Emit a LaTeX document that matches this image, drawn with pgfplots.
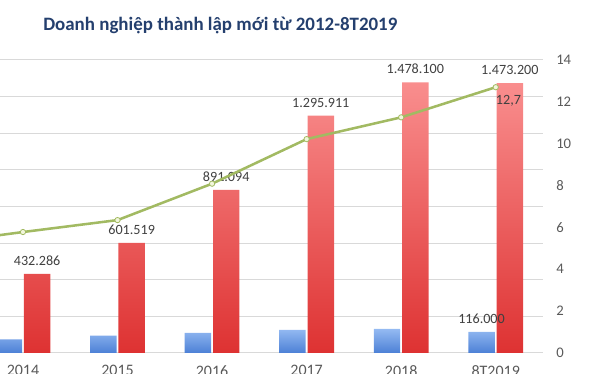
\documentclass[border=0pt]{standalone}
\usepackage{fontspec}
\setmainfont{Carlito}
\usepackage{pgfplots}
\usepackage{pgfplotstable}
\pgfplotsset{compat=1.18}
\pgfkeys{/pgf/number format/assume math mode=true}
\definecolor{gridgray}{HTML}{D9D9D9}
\definecolor{titleblue}{HTML}{243F6E}
\definecolor{lbl}{HTML}{404040}
\definecolor{ticklbl}{HTML}{595959}
\definecolor{redtop}{HTML}{F98E8E}
\definecolor{redbot}{HTML}{DE3232}
\definecolor{bluetop}{HTML}{94BAF2}
\definecolor{bluebot}{HTML}{4C80D6}
\definecolor{linegreen}{HTML}{A2BA62}
\definecolor{markfill}{HTML}{F2F6DC}

\pgfplotstableread{
idx red blue
0 432286 74842
1 601519 94754
2 891094 110100
3 1295911 126859
4 1478100 131275
5 1473200 116000
}\bars
\pgfplotstableread{
idx ratio
-1 5.18
0 5.78
1 6.35
2 8.09
3 10.22
4 11.26
5 12.70
}\ratio

\begin{document}
\begin{tikzpicture}
\begin{axis}[
  width=407.25pt, height=219.75pt, scale only axis,
  xmin=-0.243, xmax=5.5,
  ymin=0, ymax=1600000,
  scaled y ticks=false,
  axis line style={draw=none},
  tick style={draw=none},
  ytick={0,200000,...,1600000},
  yticklabels={},
  ymajorgrids,
  major grid style={gridgray, line width=0.75pt},
  xtick={0,...,5},
  xticklabels={2014,2015,2016,2017,2018,8T2019},
  xticklabel style={font=\fontsize{12}{14}\selectfont, color=ticklbl, anchor=north, inner sep=0pt, yshift=-9pt},
  every node near coord/.append style={font=\fontsize{10.6}{12}\selectfont, color=lbl, inner sep=0pt, anchor=south, yshift=6pt, xshift=10.6pt},
]
\coordinate (bl) at (rel axis cs:0,0);
\coordinate (tl) at (rel axis cs:0,1);
\addplot[ybar, bar width=0.28, bar shift=-0.15, draw=none, top color=bluetop, bottom color=bluebot] table[x=idx,y=blue]{\bars};
\addplot[ybar, bar width=0.28, bar shift=0.15, draw=none, top color=redtop, bottom color=redbot,
  nodes near coords={\pgfmathprintnumber[fixed,precision=0,1000 sep={.}]{\pgfplotspointmeta}}] table[x=idx,y=red]{\bars};
\node[font=\fontsize{10.6}{12}\selectfont, color=lbl, anchor=south, inner sep=0pt, yshift=6pt] at (axis cs:4.85,116000) {116.000};
\end{axis}
\begin{axis}[
  width=407.25pt, height=219.75pt, scale only axis,
  xmin=-0.243, xmax=5.5,
  ymin=0, ymax=14,
  axis x line=none,
  axis y line*=right,
  y axis line style={draw=none},
  tick style={draw=none},
  ytick={0,2,...,14},
  yticklabel style={font=\fontsize{11}{13}\selectfont, color=ticklbl, anchor=west, inner sep=0pt, xshift=9.75pt},
]
\addplot[linegreen, line width=1.9pt, mark=*, mark size=2pt, mark options={fill=markfill, draw=linegreen, line width=0.6pt}] table[x=idx,y=ratio]{\ratio};
\node[font=\fontsize{10.6}{12}\selectfont, color=lbl, anchor=north west, inner sep=0pt, yshift=-6pt] at (axis cs:5,12.7) {12,7};
\end{axis}
\node[anchor=base west, inner sep=0pt, font=\fontsize{14.2}{17}\selectfont\bfseries, color=titleblue, xshift=32.25pt, yshift=22pt] at (tl) {Doanh nghiệp thành lập mới từ 2012-8T2019};
\pgfresetboundingbox
\path[use as bounding box] (bl) ++(0,-15.75pt) rectangle ++(450pt,280.5pt);
\end{tikzpicture}
\end{document}
